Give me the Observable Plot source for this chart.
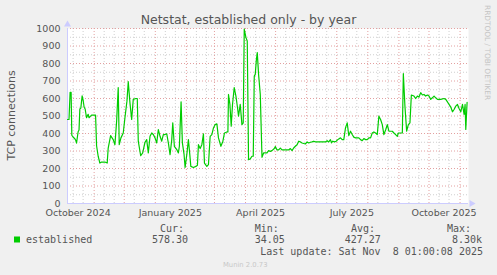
<!DOCTYPE html>
<html><head><meta charset="utf-8">
<script src="https://cdn.jsdelivr.net/npm/d3@7"></script>
<script src="https://cdn.jsdelivr.net/npm/@observablehq/plot@0.6"></script>
<style>
html,body{margin:0;padding:0;background:#f0f0f0;}
#chart{position:relative;width:497px;height:275px;overflow:hidden;}
</style></head><body><div id="chart"></div>
<script>
const title = "Netstat, established only - by year";
const yLabel = "TCP connections";
const seriesName = "established";
const startDate = "2024-10-05T10:00:00Z";
const spanDays = 400;
// day offsets from the graph start, and established connections
const days = [0,1.5,2.6,3.6,4.3,5.5,7.3,8.3,9,10.6,11.5,12.3,13.3,14.6,15.6,16.6,17.6,19,20.6,21.5,22.3,24,28,29,30.6,32.3,34,37.3,39.6,40.6,43,45.6,47.3,49,50.6,51.6,53.3,55.6,57.3,59.3,60.6,62.3,64,65.6,68.3,69.6,70.6,73,75,77.3,79,
80.6,82.3,84,85.6,87.3,89,90.6,92.3,94,95.6,97.3,99,100.6,102.3,104,105,106.6,109,110.6,111.6,113.3,114.6,116.3,117.3,119,120.6,122,123,125.6,128,129.6,130.6,132.3,134,135.6,136.6,139,140.6,142.3,144,145.6,147.3,149,150.6,153,155,156.6,159,
160,160.6,162,163.3,164.6,166.3,168,169.6,170.6,172.3,174,175.3,176.3,178,179.3,180.6,182.3,184,185.3,186.3,187.3,188.3,189.3,190.6,192.3,194,195.6,199,200.6,202.3,204,206.3,207.3,209,210.6,212.3,214,220.6,222.3,224,225.6,227.3,229,230.6,232.3,234,237.3,239,
240.6,242.3,244,245.6,247.3,257.3,259,260.6,262.3,263.3,264.6,266.3,268,269.6,270.6,272.3,274,275.6,277.3,279,280.6,282.3,284,285.6,287.3,290.6,292.3,294,295.6,297.3,299,300.6,302.3,304,305.6,307.3,309,310.6,312.3,314,315.6,317.3,319,320.6,324,325.6,327.3,329,330,334,335,336.6,338.3,340,341.6,343,345.6,347.3,349,350.6,352.3,354,355.6,357.3,359,360.6,362.3,364,365.6,367.3,369,372.3,375.6,377.3,379,380.6,382.3,384,385.6,387.3,389,390.6,392.3,394,395.6,396.6,397.3,398.6];
const conn = [480,480,635,635,390,380,370,360,345,410,420,540,545,615,590,550,540,490,510,490,495,505,505,330,270,231,237,237,231,317,388,365,336,470,662,336,375,403,490,585,696,575,480,595,600,600,356,273,289,350,365,
289,384,403,394,375,346,422,384,356,394,394,398,346,279,365,461,327,308,289,327,581,346,279,206,279,365,279,212,206,212,218,336,314,336,398,231,212,222,384,394,432,451,455,375,327,356,403,409,
409,623,566,442,566,662,614,547,499,566,451,461,996,948,929,250,255,270,270,728,738,815,862,738,623,264,289,289,302,298,302,314,325,306,306,317,306,306,314,302,317,327,336,356,352,346,340,352,
346,350,352,356,352,352,359,352,365,346,356,352,356,365,369,375,365,365,432,461,388,413,394,379,375,375,365,359,371,365,365,375,375,403,409,403,394,499,480,451,394,420,451,413,413,403,394,384,403,403,742,556,413,451,461,620,614,600,614,608,633,620,623,614,620,614,595,604,614,604,595,595,600,595,581,566,551,524,537,556,566,543,524,566,509,566,423,578];
const yTicks = [0,100,200,300,400,500,600,700,800,900,1000];
const yMinor = [50,150,250,350,450,550,650,750,850,950];
const xLabelDates = ["2024-10-16","2025-01-16","2025-04-16","2025-07-16","2025-10-16"];
const legendHeads = ["Cur:","Min:","Avg:","Max:"];
const legendVals = ["578.30","34.05","427.27","8.30k"];
const lastUpdate = "Last update: Sat Nov  8 01:00:08 2025";
const version = "Munin 2.0.73";
const sideText = "RRDTOOL / TOBI OETIKER";

const t0 = new Date(startDate);
const t1 = d3.utcDay.offset(t0, spanDays);
const data = days.map((d, i) => ({date: new Date(+t0 + d * 864e5), value: conn[i]}));
const monthStarts = d3.utcMonth.range(d3.utcMonth.ceil(t0), t1);
const xMinor = d3.utcMonth.range(d3.utcMonth.floor(t0), t1)
  .flatMap(m => [d3.utcDay.offset(m, 10), d3.utcDay.offset(m, 20)])
  .filter(d => d > t0 && d < t1);
const labelDates = xLabelDates.map(s => new Date(s + "T00:00:00Z"));
const axisColor = "#ccccff";

const chart = Plot.plot({
  width: 497, height: 275,
  marginLeft: 67, marginRight: 29, marginTop: 28, marginBottom: 72,
  style: {background: "#f0f0f0", fontFamily: "DejaVu Sans", fontSize: "9.5px", color: "#555", overflow: "visible"},
  x: {type: "utc", domain: [t0, t1]},
  y: {domain: [0, 1000]},
  marks: [
    Plot.frame({fill: "white", stroke: "none"}),
    Plot.ruleY(yMinor, {stroke: "#cfcfcf", strokeDasharray: "1,2"}),
    Plot.ruleX(xMinor, {stroke: "#cfcfcf", strokeDasharray: "1,2"}),
    Plot.ruleY(yTicks, {stroke: "#e3a0a0", strokeDasharray: "1,2"}),
    Plot.ruleX(monthStarts, {stroke: "#e3a0a0", strokeDasharray: "1,2"}),
    Plot.ruleX([t0], {stroke: axisColor}),
    Plot.ruleY([0], {stroke: axisColor}),
    Plot.dot([{x: t0, y: 1000}], {x: "x", y: "y", symbol: "triangle", r: 2.6, fill: axisColor, stroke: null, dy: -4}),
    Plot.dot([{x: t1, y: 0}], {x: "x", y: "y", symbol: "triangle", r: 2.6, fill: axisColor, stroke: null, dx: 3, rotate: 90}),
    Plot.line(data, {x: "date", y: "value", stroke: "#00cc00", strokeWidth: 1.2}),
    Plot.axisY({ticks: yTicks, tickSize: 0, tickPadding: 7, label: null, tickFormat: d => String(d)}),
    Plot.axisX({ticks: labelDates, tickSize: 0, tickPadding: 6, label: null, tickFormat: d3.utcFormat("%B %Y")})
  ]
});
document.getElementById("chart").appendChild(chart);

const svg = d3.select(chart);
const sans = "DejaVu Sans", mono = "DejaVu Sans Mono";
function addText(x, y, str, opts) {
  const t = svg.append("text").attr("x", x).attr("y", y)
    .attr("text-anchor", opts.anchor || "start")
    .attr("font-family", opts.family || mono)
    .attr("font-size", opts.size || "10px")
    .attr("fill", opts.fill || "#555")
    .attr("xml:space", "preserve").style("white-space", "pre")
    .text(str);
  if (opts.transform) t.attr("transform", opts.transform);
  return t;
}
addText(248.5, 24, title, {anchor: "middle", family: sans, size: "12.5px"});
addText(0, 0, yLabel, {anchor: "middle", family: sans, size: "11px", transform: "translate(15,115.5) rotate(-90)"});
addText(0, 0, sideText, {family: sans, size: "7.4px", fill: "#c4c4c4", transform: "translate(484.5,5) rotate(90)"});
svg.append("rect").attr("x", 14).attr("y", 236.5).attr("width", 6).attr("height", 6).attr("fill", "#00cc00");
const headX = [160, 254.7, 351, 447];
const valX = [152, 254.7, 344.7, 452];
legendHeads.forEach((h, i) => addText(headX[i], 231.5, h, {}));
legendVals.forEach((v, i) => addText(valX[i], 243, v, {}));
addText(26, 243, seriesName, {});
addText(483, 254.5, lastUpdate, {anchor: "end"});
addText(223, 267, version, {family: sans, size: "6.8px", fill: "#c8c8c8"});
</script></body></html>
